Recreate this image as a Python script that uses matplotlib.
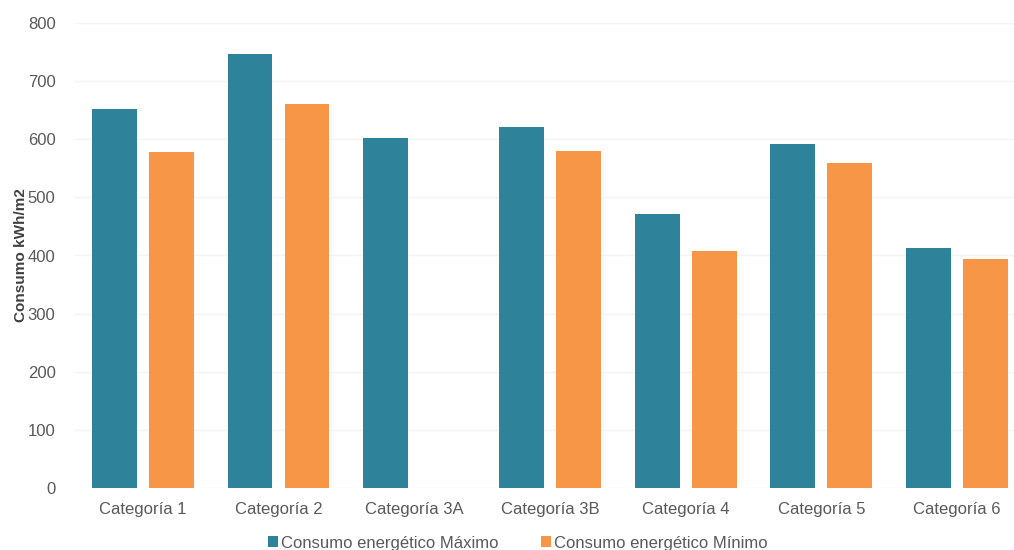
import matplotlib
matplotlib.use("Agg")
import matplotlib.pyplot as plt
import numpy as np

categories = ["Categoría 1", "Categoría 2", "Categoría 3A", "Categoría 3B",
              "Categoría 4", "Categoría 5", "Categoría 6"]
consumo_max = [652, 747, 602, 621, 471, 592, 413]
consumo_min = [578, 661, np.nan, 580, 408, 559, 394]
series_names = ["Consumo energético Máximo", "Consumo energético Mínimo"]
yticks = [0, 100, 200, 300, 400, 500, 600, 700, 800]

plt.rcParams['font.family'] = ['Liberation Sans', 'DejaVu Sans']

fig = plt.figure(figsize=(10.14, 5.5), dpi=100)
ax = fig.add_axes([75/1014, 1 - 488/550, 1 - 75/1014, (488 - 23)/550])

x = np.arange(len(categories))
w = 0.33
off = 0.21
teal = "#2E8299"
orange = "#F79646"
ax.bar(x - off, consumo_max, w, color=teal, label=series_names[0], zorder=3)
ax.bar(x + off, consumo_min, w, color=orange, label=series_names[1], zorder=3)

ax.set_xlim(-0.5, 6.42)
ax.set_ylim(0, 800)
ax.set_yticks(yticks)
ax.yaxis.grid(True, color="#f4f4f4", linewidth=1, zorder=0)
ax.set_axisbelow(True)
for s in ax.spines.values():
    s.set_visible(False)
ax.set_xticks(x)
ax.set_xticklabels(categories)
ax.tick_params(axis='both', length=0, colors="#595959", labelsize=12)
ax.tick_params(axis='x', pad=10)
ax.tick_params(axis='y', pad=14)
ax.set_ylabel("Consumo kWh/m2", fontsize=11, fontweight='bold', color="#404040", labelpad=0)

ax.legend(loc='upper center', bbox_to_anchor=(0.4715, -0.07), ncol=2, frameon=False,
          fontsize=12, handlelength=0.6, handleheight=0.6, handletextpad=0.2,
          columnspacing=2.5, labelcolor="#595959")

fig.savefig("out.png", dpi=100, facecolor="white")
